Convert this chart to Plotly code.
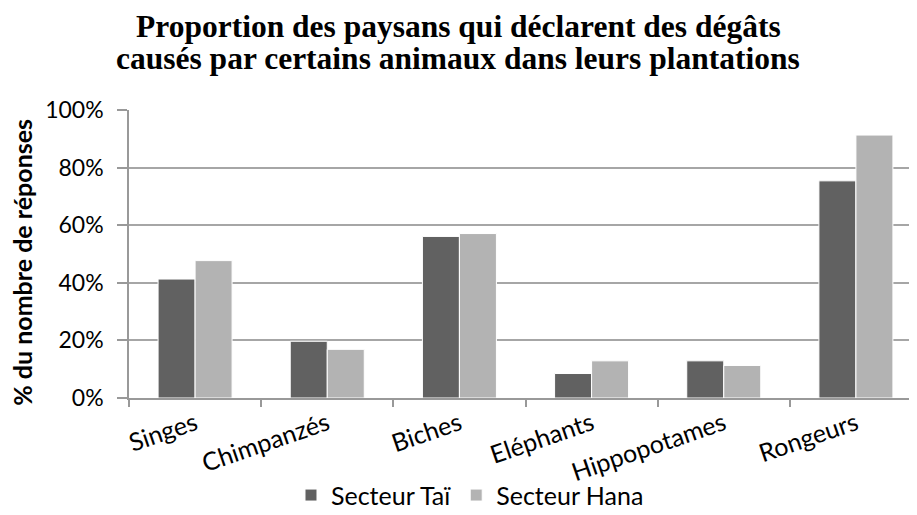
import plotly.graph_objects as go

categories = ["Singes", "Chimpanzés", "Biches", "Eléphants", "Hippopotames", "Rongeurs"]
secteur_tai = [41.3, 19.7, 56.1, 8.5, 12.9, 75.4]
secteur_hana = [47.7, 16.9, 57.1, 12.9, 11.3, 91.3]
y_ticks = [0, 20, 40, 60, 80, 100]
y_tick_labels = ["0%", "20%", "40%", "60%", "80%", "100%"]
title_lines = [
    "Proportion des paysans qui déclarent des dégâts",
    "causés par certains animaux dans leurs plantations",
]

fig = go.Figure()

fig.add_trace(go.Bar(
    x=categories,
    y=secteur_tai,
    name="Secteur Taï",
    marker=dict(color="#616161", line=dict(color="white", width=1)),
))
fig.add_trace(go.Bar(
    x=categories,
    y=secteur_hana,
    name="Secteur Hana",
    marker=dict(color="#b3b3b3", line=dict(color="white", width=1)),
))

# title as two annotations, tighter line spacing than a <br> title
for line, ypos in zip(title_lines, [1.29, 1.18]):
    fig.add_annotation(
        text="<b>" + line + "</b>",
        xref="paper", yref="paper",
        x=0.415, y=ypos,
        xanchor="center", yanchor="middle",
        showarrow=False,
        font=dict(family="Liberation Serif", size=31.5, color="black"),
    )

# y axis title sits right at the left edge
fig.add_annotation(
    text="<b>% du nombre de réponses</b>",
    xref="paper", yref="paper",
    x=-0.135, y=0.473,
    xanchor="center", yanchor="middle",
    textangle=-90,
    showarrow=False,
    font=dict(family="Lato", size=25, color="black"),
)

fig.update_layout(
    width=917,
    height=515,
    barmode="group",
    bargap=0.44,
    bargroupgap=0,
    plot_bgcolor="white",
    paper_bgcolor="white",
    margin=dict(l=121, r=3, t=102, b=125),
    font=dict(family="Lato", color="black"),
    legend=dict(
        orientation="h",
        x=0.43,
        xanchor="center",
        y=-0.258,
        yanchor="top",
        bgcolor="rgba(0,0,0,0)",
        font=dict(family="Lato", size=25),
        itemwidth=30,
        traceorder="normal",
    ),
    xaxis=dict(
        range=[-0.5, 5.5],
        automargin=False,
        showgrid=False,
        showline=True,
        linecolor="#999999",
        linewidth=1.5,
        ticks="outside",
        tickson="boundaries",
        ticklen=7,
        tickcolor="#999999",
        tickwidth=1.5,
        tickangle=-19,
        tickfont=dict(family="Lato", size=25),
    ),
    yaxis=dict(
        range=[0, 100],
        automargin=False,
        tickvals=y_ticks,
        ticktext=y_tick_labels,
        showgrid=True,
        gridcolor="#a6a6a6",
        gridwidth=1.5,
        zeroline=False,
        showline=True,
        linecolor="#999999",
        linewidth=1.5,
        ticks="outside",
        ticklen=10,
        tickcolor="#999999",
        tickwidth=1.5,
        ticklabelstandoff=9,
        tickfont=dict(family="Lato", size=23),
    ),
)

fig.write_html("out.html")
